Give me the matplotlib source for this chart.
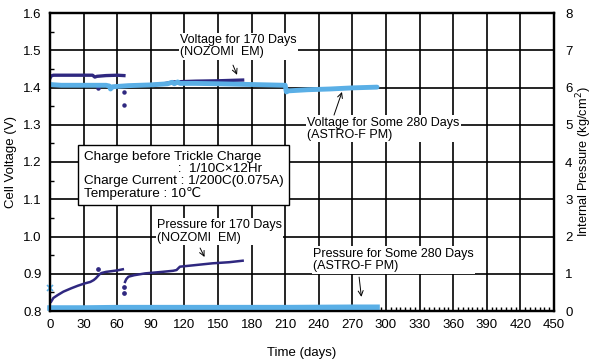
import matplotlib
matplotlib.use("Agg")
import matplotlib.pyplot as plt
from matplotlib.ticker import MultipleLocator, AutoMinorLocator

plt.rcParams['font.family'] = ['Liberation Sans', 'DejaVu Sans', 'Noto Sans CJK JP']
plt.rcParams['font.size'] = 9

DARK = '#2f2880'
LIGHT = '#5aafe6'

# voltage, NOZOMI EM (V)
nozomi_v_days1 = [0, 1, 3, 10, 20, 30, 38, 40, 42, 50, 60, 66]
nozomi_v1 = [1.425, 1.431, 1.433, 1.433, 1.433, 1.433, 1.433, 1.428, 1.430, 1.432, 1.433, 1.432]
nozomi_v_days2 = [66, 80, 100, 110, 130, 150, 172]
nozomi_v2 = [1.404, 1.406, 1.409, 1.415, 1.417, 1.418, 1.420]
nozomi_v_odd_days = [43, 66, 66]
nozomi_v_odd = [1.398, 1.387, 1.352]

# voltage, ASTRO-F PM (V)
astro_v_days = [0, 10, 30, 50, 53, 54, 56, 70, 90, 105, 109, 111, 114, 116, 130, 150, 180, 210,
                211, 213, 230, 250, 270, 292]
astro_v = [1.408, 1.406, 1.406, 1.406, 1.404, 1.396, 1.402, 1.405, 1.407, 1.410, 1.414, 1.410,
           1.415, 1.411, 1.411, 1.410, 1.408, 1.406, 1.388, 1.391, 1.394, 1.396, 1.399, 1.401]

# pressure, NOZOMI EM (kg/cm2)
nozomi_p_days1 = [1, 3, 7, 12, 19, 25, 31, 36, 39, 41, 44, 46, 50, 55, 60, 65]
nozomi_p1 = [0.25, 0.35, 0.43, 0.52, 0.61, 0.68, 0.74, 0.78, 0.83, 0.88, 0.98, 1.02, 1.05, 1.07, 1.09, 1.12]
nozomi_p_days2 = [67, 68, 70, 75, 85, 100, 110, 113, 116, 129, 145, 160, 172]
nozomi_p2 = [0.78, 0.85, 0.92, 0.96, 1.01, 1.05, 1.08, 1.10, 1.19, 1.23, 1.28, 1.31, 1.35]
nozomi_p_odd_days = [42.5, 66, 66]
nozomi_p_odd = [1.12, 0.49, 0.65]

# pressure, ASTRO-F PM (kg/cm2)
astro_p_days = [0, 30, 60, 120, 150, 210, 270, 292]
astro_p = [0.08, 0.08, 0.09, 0.09, 0.09, 0.09, 0.10, 0.10]
astro_p_first_day = [0]
astro_p_first = [0.62]

fig = plt.figure(figsize=(5.93, 3.6), dpi=100)
ax = fig.add_axes([50 / 593, 49 / 360, 504 / 593, 298 / 360])
ax2 = ax.twinx()

ax.set_xlim(0, 450)
ax.set_ylim(0.8, 1.6)
ax2.set_ylim(0, 8)
ax.xaxis.set_major_locator(MultipleLocator(30))
ax.xaxis.set_minor_locator(AutoMinorLocator(7))
ax.yaxis.set_major_locator(MultipleLocator(0.1))
ax.yaxis.set_minor_locator(MultipleLocator(0.05))
ax.yaxis.set_major_formatter(matplotlib.ticker.FormatStrFormatter('%.1f'))
ax2.yaxis.set_major_locator(MultipleLocator(1))
ax.grid(True, which='major', color='black', lw=1.2)
ax.tick_params(which='both', direction='in', top=False, right=False, labelsize=9.5)
ax.tick_params(which='major', length=0, pad=6)
ax.tick_params(which='minor', length=3, width=1)
ax2.tick_params(direction='in', length=0, labelsize=9.5, pad=8)
for a in (ax, ax2):
    for s in a.spines.values():
        s.set_linewidth(1.6)

# voltage
ax.plot(nozomi_v_days1, nozomi_v1, color=DARK, lw=2.4, zorder=4)
ax.plot(nozomi_v_days2, nozomi_v2, color=DARK, lw=2.4, zorder=4)
ax.plot(nozomi_v_odd_days, nozomi_v_odd, 'o', color=DARK, ms=2.2, zorder=4)
ax.plot(astro_v_days, astro_v, color=LIGHT, lw=3.5, zorder=5, solid_capstyle='round')

# pressure
ax2.plot(nozomi_p_days1, nozomi_p1, color=DARK, lw=1.8)
ax2.plot(nozomi_p_days2, nozomi_p2, color=DARK, lw=1.8)
ax2.plot(nozomi_p_odd_days, nozomi_p_odd, 'o', color=DARK, ms=2.4)
ax2.plot(astro_p_days, astro_p, color=LIGHT, lw=4, clip_on=False)
ax2.plot(astro_p_first_day, astro_p_first, 'x', color=LIGHT, ms=4, mew=1.2, clip_on=False)

ax.set_xlabel('Time (days)', fontsize=9.5, labelpad=11)
ax.set_ylabel('Cell Voltage (V)', fontsize=9.5, labelpad=4)
ax2.set_ylabel('Internal Pressure (kg/cm$^2$)', fontsize=9.2, labelpad=1)

white = dict(facecolor='white', edgecolor='none', pad=1)
arrow = dict(arrowstyle='->', lw=0.7, color='black', shrinkA=0, shrinkB=0)

ax.text(116, 1.511, 'Voltage for 170 Days\n(NOZOMI  EM)', va='center', ha='left',
        linespacing=1.05, bbox=white, zorder=6)
ax.annotate('', xy=(167, 1.434), xytext=(163.4, 1.460), arrowprops=arrow, zorder=6)

ax.text(229.5, 1.289, 'Voltage for Some 280 Days\n(ASTRO-F PM)', va='center', ha='left',
        linespacing=1.05, bbox=white, zorder=6)
ax.annotate('', xy=(260.7, 1.388), xytext=(253.6, 1.326), arrowprops=arrow, zorder=6)

ax.text(95.5, 1.013, 'Pressure for 170 Days\n(NOZOMI  EM)', va='center', ha='left',
        linespacing=1.05, bbox=white, zorder=6)
ax.annotate('', xy=(138, 0.945), xytext=(134, 0.969), arrowprops=arrow, zorder=6)

ax.text(235, 0.937, 'Pressure for Some 280 Days\n(ASTRO-F PM)', va='center', ha='left',
        linespacing=1.05, bbox=white, zorder=6)
ax.annotate('', xy=(278, 0.838), xytext=(276, 0.891), arrowprops=arrow, zorder=6)

ax.text(30, 1.164,
        'Charge before Trickle Charge\n'
        '                         :  1/10C\u00d712Hr\n'
        'Charge Current : 1/200C(0.075A)\n'
        'Temperature : 10\u2103',
        va='center', ha='left', linespacing=1.0, zorder=6, fontsize=9.7,
        bbox=dict(facecolor='white', edgecolor='black', lw=1, pad=4))

fig.savefig('out.png', dpi=100)
